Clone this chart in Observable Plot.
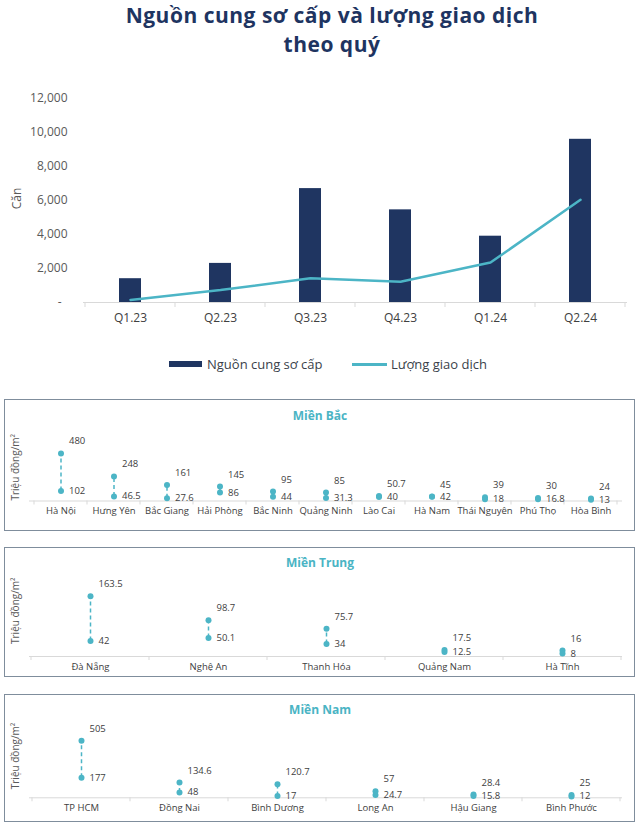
<!DOCTYPE html>
<html>
<head>
<meta charset="utf-8">
<script src="https://cdn.jsdelivr.net/npm/d3@7"></script>
<script src="https://cdn.jsdelivr.net/npm/@observablehq/plot@0.6"></script>
<style>
  body { margin: 0; background: #fff; font-family: "Open Sans", Lato, sans-serif; }
  #root { position: relative; width: 640px; height: 826px; overflow: hidden; }
  .abs { position: absolute; }
  .title { left: 12px; width: 640px; top: 1px; text-align: center; font-weight: 700; font-size: 21px; line-height: 29px; letter-spacing: 0.5px; color: #1e3461; }
  .box { left: 4px; width: 629px; border: 1.5px solid #7f8d9c; background: #fff; }
  .ptitle { left: 0; width: 640px; text-align: center; font-weight: 700; font-size: 12px; color: #4ab4c4; }
  .leg { font-size: 13px; color: #3a3f4a; }
</style>
</head>
<body>
<div id="root"></div>
<script>
// ---- data: top chart ----
const quarters = ["Q1.23", "Q2.23", "Q3.23", "Q4.23", "Q1.24", "Q2.24"];
const supply = [1400, 2300, 6700, 5450, 3900, 9600];
const transactions = [150, 730, 1430, 1220, 2350, 6040];
const yTickValues = [0, 2000, 4000, 6000, 8000, 10000, 12000];

// ---- data: panels ----
const northProvinces = ["Hà Nội", "Hưng Yên", "Bắc Giang", "Hải Phòng", "Bắc Ninh", "Quảng Ninh", "Lào Cai", "Hà Nam", "Thái Nguyên", "Phú Thọ", "Hòa Bình"];
const northHigh = [480, 248, 161, 145, 95, 85, 50.7, 45, 39, 30, 24];
const northLow = [102, 46.5, 27.6, 86, 44, 31.3, 40, 42, 18, 16.8, 13];

const centralProvinces = ["Đà Nẵng", "Nghệ An", "Thanh Hóa", "Quảng Nam", "Hà Tĩnh"];
const centralHigh = [163.5, 98.7, 75.7, 17.5, 16];
const centralLow = [42, 50.1, 34, 12.5, 8];

const southProvinces = ["TP HCM", "Đồng Nai", "Bình Dương", "Long An", "Hậu Giang", "Bình Phước"];
const southHigh = [505, 134.6, 120.7, 57, 28.4, 25];
const southLow = [177, 48, 17, 24.7, 15.8, 12];

const NAVY = "#1f3561";
const TEAL = "#4cb5c6";
const FONT = "'Open Sans', Lato, sans-serif";
const root = document.getElementById("root");

function el(cls, css, html) {
  const d = document.createElement("div");
  d.className = "abs " + (cls || "");
  Object.assign(d.style, css);
  if (html != null) d.innerHTML = html;
  root.appendChild(d);
  return d;
}

// category boundary ticks below the axis line, drawn from the band scale
function boundaryTicks(len, color) {
  return (index, scales, values, dims) => {
    const x = scales.x;
    const dom = x.domain();
    const bw = x.bandwidth();
    const y0 = dims.height - dims.marginBottom;
    const xs = dom.map(d => x(d)).concat([x(dom[dom.length - 1]) + bw]);
    const g = d3.create("svg:g");
    g.selectAll("line").data(xs).join("line")
      .attr("x1", d => d).attr("x2", d => d)
      .attr("y1", y0).attr("y2", y0 + len)
      .attr("stroke", color).attr("stroke-width", 1);
    return g.node();
  };
}

// ---- title ----
el("title", {}, "Nguồn cung sơ cấp và lượng giao dịch<br>theo quý");

// ---- top chart ----
const topRows = quarters.map((q, i) => ({q, supply: supply[i], trans: transactions[i]}));
const topChart = Plot.plot({
  width: 640, height: 255,
  marginTop: 18, marginBottom: 33, marginLeft: 83, marginRight: 13,
  x: {type: "band", domain: quarters, padding: 0, label: null},
  y: {domain: [0, 12000], label: null},
  style: {fontFamily: FONT, fontSize: "12px", color: "#595959", background: "transparent"},
  marks: [
    Plot.barY(topRows, {x: "q", y: "supply", fill: NAVY, insetLeft: 34, insetRight: 34}),
    Plot.ruleY([0], {stroke: "#d9d9d9", strokeWidth: 1.2}),
    boundaryTicks(5, "#d9d9d9"),
    Plot.line(topRows, {x: "q", y: "trans", stroke: TEAL, strokeWidth: 2.5}),
    Plot.axisX({tickSize: 0, tickPadding: 11, fontSize: 12, fill: "#404040", label: null}),
    Plot.axisY(yTickValues, {tickSize: 0, tickPadding: 16, fontSize: 12, fill: "#595959", label: null,
      tickFormat: d => d === 0 ? "-\u2002" : d3.format(",")(d)}),
    Plot.text(["Căn"], {text: d => d, frameAnchor: "left", textAnchor: "middle", dx: -66, dy: -2, rotate: -90, fontSize: 12, fill: "#595959"})
  ]
});
const topWrap = el("", {left: "0px", top: "80px"});
topWrap.appendChild(topChart);

// ---- legend ----
el("", {left: "169px", top: "361px", width: "33px", height: "6px", background: NAVY});
el("leg", {left: "207px", top: "355px"}, "Nguồn cung sơ cấp");
el("", {left: "352px", top: "363px", width: "35px", height: "3px", background: TEAL});
el("leg", {left: "391px", top: "355px"}, "Lượng giao dịch");

// ---- panels ----
function panel(opts) {
  const {names, high, low, title, boxTop, boxHeight, titleTop, svgTop, svgHeight, yMax, marginTop, marginBottom, yLabelDy} = opts;
  const rows = names.map((n, i) => ({name: n, high: high[i], low: low[i]}));
  el("box", {top: boxTop + "px", height: boxHeight + "px"});
  el("ptitle", {top: titleTop + "px"}, title);
  const chart = Plot.plot({
    width: 640, height: svgHeight,
    marginLeft: 29, marginRight: 18, marginTop, marginBottom,
    x: {type: "band", domain: names, padding: 0, label: null},
    y: {domain: [0, yMax], label: null, axis: null},
    style: {fontFamily: FONT, fontSize: "10px", color: "#404040", background: "transparent", overflow: "visible"},
    marks: [
      Plot.ruleY([0], {stroke: "#d9d9d9", strokeWidth: 1}),
      boundaryTicks(4, "#d9d9d9"),
      Plot.axisX({tickSize: 0, tickPadding: 6.5, fontSize: 9.5, fill: "#404040", label: null}),
      Plot.ruleX(rows, {x: "name", y1: "low", y2: "high", stroke: TEAL, strokeWidth: 1.5, strokeDasharray: "4,3"}),
      Plot.dot(rows, {x: "name", y: "high", r: 3, fill: TEAL}),
      Plot.dot(rows, {x: "name", y: "low", r: 3, fill: TEAL}),
      Plot.text(rows, {x: "name", y: "high", text: d => String(d.high), dx: 8, dy: -12, textAnchor: "start", fill: "#404040", fontSize: 9.5}),
      Plot.text(rows, {x: "name", y: "low", text: d => String(d.low), dx: 8, dy: 0, textAnchor: "start", fill: "#404040", fontSize: 9.5}),
      Plot.text(["Triệu đồng/m²"], {text: d => d, frameAnchor: "left", textAnchor: "middle", dx: -14, dy: yLabelDy, rotate: -90, fontSize: 10, fill: "#595959"})
    ]
  });
  const w = el("", {left: "0px", top: svgTop + "px"});
  w.appendChild(chart);
}

panel({names: northProvinces, high: northHigh, low: northLow, title: "Miền Bắc",
  boxTop: 399, boxHeight: 130, titleTop: 407, svgTop: 430, svgHeight: 92, yMax: 600,
  marginTop: 11, marginBottom: 21.5, yLabelDy: -4});
panel({names: centralProvinces, high: centralHigh, low: centralLow, title: "Miền Trung",
  boxTop: 547, boxHeight: 128, titleTop: 554, svgTop: 575, svgHeight: 100, yMax: 200,
  marginTop: 7.4, marginBottom: 19, yLabelDy: -9});
panel({names: southProvinces, high: southHigh, low: southLow, title: "Miền Nam",
  boxTop: 694, boxHeight: 126, titleTop: 701, svgTop: 722, svgHeight: 95, yMax: 600,
  marginTop: 7.6, marginBottom: 19.7, yLabelDy: -8});
</script>
</body>
</html>
